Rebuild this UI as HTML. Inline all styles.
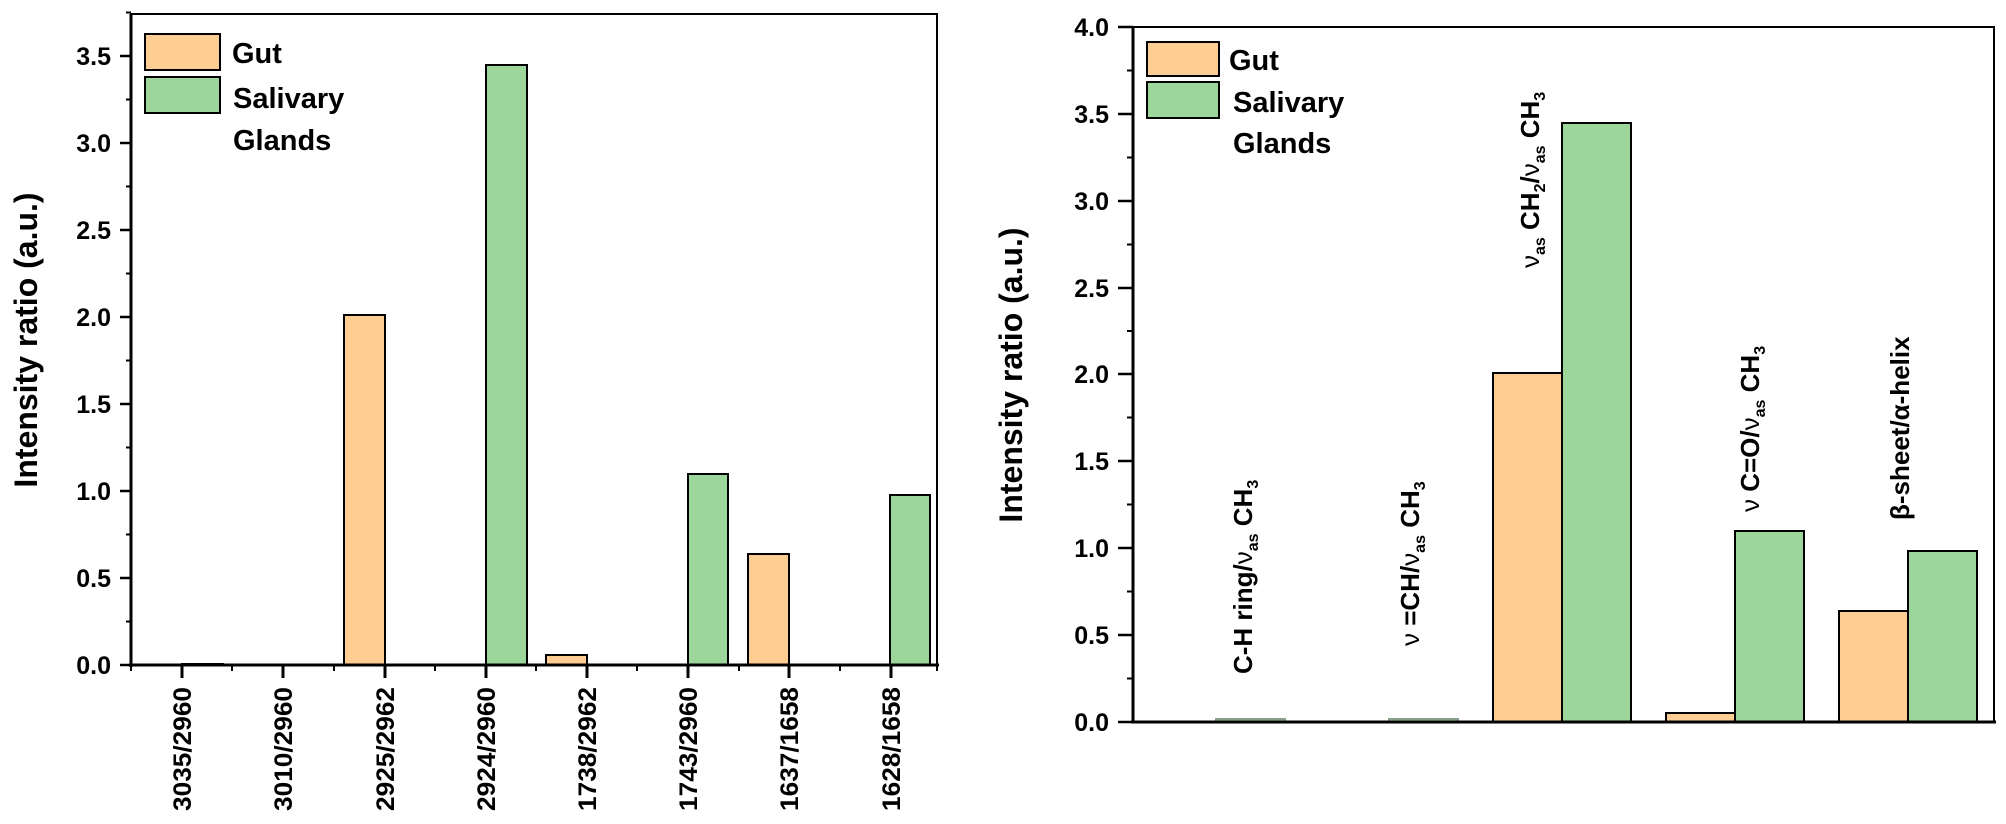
<!DOCTYPE html>
<html><head><meta charset="utf-8"><style>html,body{margin:0;padding:0;background:#fff}svg{display:block}</style></head>
<body>
<svg width="2006" height="824" viewBox="0 0 2006 824" xmlns="http://www.w3.org/2000/svg" font-family="Liberation Sans, Arial, sans-serif" font-weight="bold">
<rect width="2006" height="824" fill="#fff"/>
<!-- LEFT CHART: x0=131,x1=937,y0=665,top=14, unit 174 -->
<g stroke="#000" stroke-width="2">
  <!-- bars -->
  <rect x="182" y="664" width="41" height="1" fill="#000"/>
  <rect x="284" y="664" width="40" height="1" fill="#6a8a6a" stroke="none"/>
  <rect x="344" y="315" width="41" height="350" fill="#FECD91"/>
  <rect x="486" y="65" width="41" height="600" fill="#9DD69B"/>
  <rect x="546" y="655" width="41" height="10" fill="#FECD91"/>
  <rect x="688" y="474" width="40" height="191" fill="#9DD69B"/>
  <rect x="748" y="554" width="41" height="111" fill="#FECD91"/>
  <rect x="890" y="495" width="40" height="170" fill="#9DD69B"/>
</g>
<g stroke="#000" fill="none">
  <rect x="131" y="14" width="806" height="651" stroke-width="2"/>
  <line x1="131" y1="14" x2="131" y2="667" stroke-width="3"/>
  <line x1="129" y1="665" x2="939" y2="665" stroke-width="3"/>
  <!-- y ticks -->
  <g stroke-width="2.5">
    <line x1="120" y1="665" x2="131" y2="665"/><line x1="120" y1="578" x2="131" y2="578"/>
    <line x1="120" y1="491" x2="131" y2="491"/><line x1="120" y1="404" x2="131" y2="404"/>
    <line x1="120" y1="317" x2="131" y2="317"/><line x1="120" y1="230" x2="131" y2="230"/>
    <line x1="120" y1="143" x2="131" y2="143"/><line x1="120" y1="56" x2="131" y2="56"/>
  </g>
  <g stroke-width="2">
    <line x1="126" y1="621.5" x2="131" y2="621.5"/><line x1="126" y1="534.5" x2="131" y2="534.5"/>
    <line x1="126" y1="447.5" x2="131" y2="447.5"/><line x1="126" y1="360.5" x2="131" y2="360.5"/>
    <line x1="126" y1="273.5" x2="131" y2="273.5"/><line x1="126" y1="186.5" x2="131" y2="186.5"/>
    <line x1="126" y1="99.5" x2="131" y2="99.5"/><line x1="126" y1="12.5" x2="131" y2="12.5"/>
  </g>
  <!-- x ticks -->
  <g stroke-width="3">
    <line x1="182" y1="665" x2="182" y2="678"/><line x1="283" y1="665" x2="283" y2="678"/>
    <line x1="385" y1="665" x2="385" y2="678"/><line x1="486" y1="665" x2="486" y2="678"/>
    <line x1="587" y1="665" x2="587" y2="678"/><line x1="688" y1="665" x2="688" y2="678"/>
    <line x1="789" y1="665" x2="789" y2="678"/><line x1="891" y1="665" x2="891" y2="678"/>
  </g>
  <g stroke-width="2">
    <line x1="131" y1="665" x2="131" y2="671"/><line x1="232" y1="665" x2="232" y2="671"/>
    <line x1="334" y1="665" x2="334" y2="671"/><line x1="435" y1="665" x2="435" y2="671"/>
    <line x1="536" y1="665" x2="536" y2="671"/><line x1="637" y1="665" x2="637" y2="671"/>
    <line x1="739" y1="665" x2="739" y2="671"/><line x1="840" y1="665" x2="840" y2="671"/>
    <line x1="937" y1="665" x2="937" y2="671"/>
  </g>
</g>
<g font-size="25" text-anchor="end" fill="#000">
  <text x="111" y="674">0.0</text><text x="111" y="587">0.5</text><text x="111" y="500">1.0</text>
  <text x="111" y="413">1.5</text><text x="111" y="326">2.0</text><text x="111" y="239">2.5</text>
  <text x="111" y="152">3.0</text><text x="111" y="65">3.5</text>
</g>
<g font-size="25" text-anchor="end" fill="#000">
  <text transform="translate(191,687) rotate(-90)" textLength="124" lengthAdjust="spacingAndGlyphs">3035/2960</text>
  <text transform="translate(292,687) rotate(-90)" textLength="124" lengthAdjust="spacingAndGlyphs">3010/2960</text>
  <text transform="translate(394,687) rotate(-90)" textLength="124" lengthAdjust="spacingAndGlyphs">2925/2962</text>
  <text transform="translate(495,687) rotate(-90)" textLength="124" lengthAdjust="spacingAndGlyphs">2924/2960</text>
  <text transform="translate(596,687) rotate(-90)" textLength="124" lengthAdjust="spacingAndGlyphs">1738/2962</text>
  <text transform="translate(697,687) rotate(-90)" textLength="124" lengthAdjust="spacingAndGlyphs">1743/2960</text>
  <text transform="translate(798,687) rotate(-90)" textLength="124" lengthAdjust="spacingAndGlyphs">1637/1658</text>
  <text transform="translate(900,687) rotate(-90)" textLength="124" lengthAdjust="spacingAndGlyphs">1628/1658</text>
</g>
<text transform="translate(37,340) rotate(-90)" font-size="32" text-anchor="middle">Intensity ratio (a.u.)</text>
<!-- left legend -->
<rect x="145" y="34" width="75" height="36" fill="#FECD91" stroke="#000" stroke-width="2"/>
<rect x="145" y="77" width="75" height="36" fill="#9DD69B" stroke="#000" stroke-width="2"/>
<g font-size="29"><text x="232" y="63">Gut</text><text x="233" y="108">Salivary</text><text x="233" y="150">Glands</text></g>

<!-- RIGHT CHART: x0=1133,x1=1994,y0=722,top=27 unit 173.5 -->
<g stroke="#000" stroke-width="2">
  <rect x="1216" y="719" width="69" height="3" fill="#9DD69B" stroke="#8aa08a"/>
  <rect x="1389" y="719" width="69" height="3" fill="#9DD69B" stroke="#8aa08a"/>
  <rect x="1493" y="373" width="69" height="349" fill="#FECD91"/>
  <rect x="1562" y="123" width="69" height="599" fill="#9DD69B"/>
  <rect x="1666" y="713" width="69" height="9" fill="#FECD91"/>
  <rect x="1735" y="531" width="69" height="191" fill="#9DD69B"/>
  <rect x="1839" y="611" width="69" height="111" fill="#FECD91"/>
  <rect x="1908" y="551" width="69" height="171" fill="#9DD69B"/>
</g>
<g stroke="#000" fill="none">
  <rect x="1133" y="27" width="861" height="695" stroke-width="2"/>
  <line x1="1133" y1="26" x2="1133" y2="723" stroke-width="3"/>
  <line x1="1131" y1="722" x2="1996" y2="722" stroke-width="3"/>
  <g stroke-width="2.5">
    <line x1="1118" y1="722" x2="1133" y2="722"/><line x1="1118" y1="635" x2="1133" y2="635"/>
    <line x1="1118" y1="548" x2="1133" y2="548"/><line x1="1118" y1="461" x2="1133" y2="461"/>
    <line x1="1118" y1="374" x2="1133" y2="374"/><line x1="1118" y1="288" x2="1133" y2="288"/>
    <line x1="1118" y1="201" x2="1133" y2="201"/><line x1="1118" y1="114" x2="1133" y2="114"/>
    <line x1="1118" y1="27" x2="1133" y2="27"/>
  </g>
  <g stroke-width="2">
    <line x1="1127" y1="678.5" x2="1133" y2="678.5"/><line x1="1127" y1="591.5" x2="1133" y2="591.5"/>
    <line x1="1127" y1="504.5" x2="1133" y2="504.5"/><line x1="1127" y1="417.5" x2="1133" y2="417.5"/>
    <line x1="1127" y1="331" x2="1133" y2="331"/><line x1="1127" y1="244.5" x2="1133" y2="244.5"/>
    <line x1="1127" y1="157.5" x2="1133" y2="157.5"/><line x1="1127" y1="70.5" x2="1133" y2="70.5"/>
  </g>
</g>
<g font-size="25" text-anchor="end" fill="#000">
  <text x="1109" y="731">0.0</text><text x="1109" y="644">0.5</text><text x="1109" y="557">1.0</text>
  <text x="1109" y="470">1.5</text><text x="1109" y="383">2.0</text><text x="1109" y="297">2.5</text>
  <text x="1109" y="210">3.0</text><text x="1109" y="123">3.5</text><text x="1109" y="36">4.0</text>
</g>
<text transform="translate(1022,375) rotate(-90)" font-size="32" text-anchor="middle">Intensity ratio (a.u.)</text>
<!-- right legend -->
<rect x="1147" y="42" width="72" height="34" fill="#FECD91" stroke="#000" stroke-width="2"/>
<rect x="1147" y="82" width="72" height="36" fill="#9DD69B" stroke="#000" stroke-width="2"/>
<g font-size="29"><text x="1229" y="70">Gut</text><text x="1233" y="112">Salivary</text><text x="1233" y="153">Glands</text></g>
<!-- rotated annotation labels -->
<g font-size="26" fill="#000">
  <text transform="translate(1252,674) rotate(-90)">C-H ring/<tspan font-weight="normal">ν</tspan><tspan font-size="16" dy="6">as</tspan><tspan dy="-6"> CH</tspan><tspan font-size="16" dy="6">3</tspan></text>
  <text transform="translate(1419,646) rotate(-90)"><tspan font-weight="normal">ν</tspan> =CH/<tspan font-weight="normal">ν</tspan><tspan font-size="16" dy="6">as</tspan><tspan dy="-6"> CH</tspan><tspan font-size="16" dy="6">3</tspan></text>
  <text transform="translate(1539,268) rotate(-90)"><tspan font-weight="normal">ν</tspan><tspan font-size="16" dy="6">as</tspan><tspan dy="-6"> CH</tspan><tspan font-size="16" dy="6">2</tspan><tspan dy="-6">/</tspan><tspan font-weight="normal">ν</tspan><tspan font-size="16" dy="6">as</tspan><tspan dy="-6"> CH</tspan><tspan font-size="16" dy="6">3</tspan></text>
  <text transform="translate(1759,512) rotate(-90)"><tspan font-weight="normal">ν</tspan> C=O/<tspan font-weight="normal">ν</tspan><tspan font-size="16" dy="6">as</tspan><tspan dy="-6"> CH</tspan><tspan font-size="16" dy="6">3</tspan></text>
  <text transform="translate(1909,520) rotate(-90)">β-sheet/α-helix</text>
</g>
</svg>
</body></html>
